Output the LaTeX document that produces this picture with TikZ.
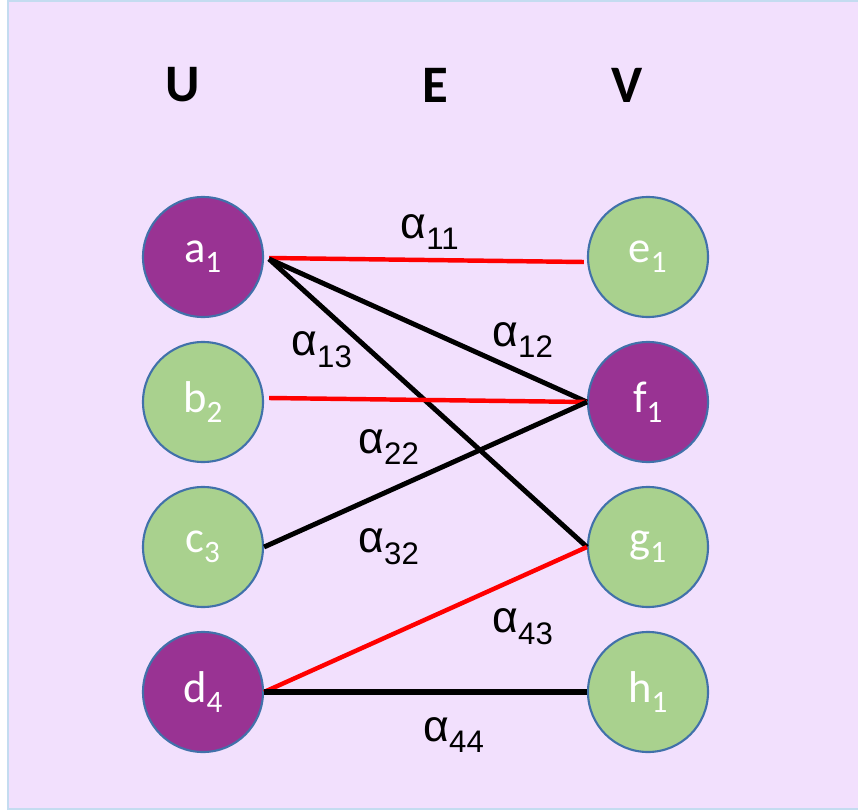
\documentclass[tikz,border=0pt]{standalone}
\usepackage{fontspec}
\setmainfont{Carlito}
\newfontfamily\arialfont{Liberation Sans}
\usepackage{tikz}
\usetikzlibrary{positioning, arrows.meta, calc}
\usepackage{xcolor}
\definecolor{bgpurple}{RGB}{242,224,253}
\definecolor{bgframe}{RGB}{196,220,240}
\definecolor{nodepurple}{RGB}{153,51,147}
\definecolor{nodegreen}{RGB}{169,209,142}
\definecolor{nodeframe}{RGB}{65,113,170}
\tikzset{
    vertex_on/.style={
        circle, draw=nodeframe, line width=1.8pt,
        minimum size=3.6cm, inner sep=0pt,
        fill=nodepurple, text=white,
        font=\fontsize{38}{44}\selectfont
    },
    vertex_off/.style={
        vertex_on, fill=nodegreen
    },
    match_edge/.style={
        red, line width=3.8pt
    },
    plain_edge/.style={
        black, line width=4.2pt
    },
    weight/.style={
        font=\arialfont\fontsize{38}{42}\selectfont
    },
    setname/.style={
        font=\bfseries\fontsize{45}{50}\selectfont
    }
}

\begin{document}
\begin{tikzpicture}[x=0.03cm, y=-0.03cm]

\useasboundingbox (0,0) rectangle (858,812);
\draw[bgframe, line width=2.5pt, fill=bgpurple] (8,1) rectangle (880,809);

% set names
\node[setname] (setU) at (183,85) {U};
\node[setname] (setE) at (435,85) {E};
\node[setname] (setV) at (627,85) {V};

% left side
\node[vertex_on]  (a1) at (203,257) {a\textsubscript{1}};
\node[vertex_off] (b2) at (203,402) {b\textsubscript{2}};
\node[vertex_off] (c3) at (203,547) {c\textsubscript{3}};
\node[vertex_on]  (d4) at (203,692) {d\textsubscript{4}};

% right side
\node[vertex_off] (e1) at (648,257) {e\textsubscript{1}};
\node[vertex_on]  (f1) at (648,402) {f\textsubscript{1}};
\node[vertex_off] (g1) at (648,547) {g\textsubscript{1}};
\node[vertex_off] (h1) at (648,692) {h\textsubscript{1}};

% edges
\draw[match_edge] ($(a1.east)+(5,1)$) -- ($(e1.west)+(-3,5)$);
\draw[plain_edge] ($(a1.east)+(5,2)$) -- (f1.west);
\draw[plain_edge] ($(a1.east)+(5,2)$) -- (g1.west);
\draw[match_edge] ($(b2.east)+(5,-4)$) -- (f1.west);
\draw[plain_edge] (c3.east) -- (f1.west);
\draw[match_edge] (d4.east) -- (g1.west);
\draw[plain_edge, line width=5pt] (d4.east) -- (h1.west);

% weights
\node[weight] (w11) at (430,232) {α\textsubscript{11}};
\node[weight] (w12) at (523,340) {α\textsubscript{12}};
\node[weight] (w13) at (322,350) {α\textsubscript{13}};
\node[weight] (w22) at (389,447) {α\textsubscript{22}};
\node[weight] (w32) at (389,547) {α\textsubscript{32}};
\node[weight] (w43) at (523,627) {α\textsubscript{43}};
\node[weight] (w44) at (454,735) {α\textsubscript{44}};

\end{tikzpicture}
\end{document}
